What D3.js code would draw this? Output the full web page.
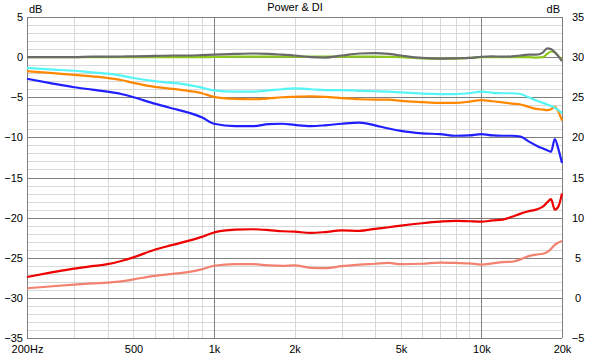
<!DOCTYPE html>
<html><head><meta charset="utf-8">
<script src="https://cdn.jsdelivr.net/npm/d3@7"></script>
<style>body{margin:0;background:#fff}svg{display:block}text{font-family:Arial,"Liberation Sans",sans-serif;font-size:11px;fill:#000}</style>
</head><body>
<script>
const freqs = [200,250,300,350,400,450,500,600,700,800,900,1000,1200,1400,1600,1800,2000,2300,2600,3000,3500,4000,4500,5000,6000,7000,8000,9000,10000,11000,12000,13000,14000,15000,16000,17000,17600,18200,18800,19400,20000];
const grayVals = [0,0,0,0.05,0.05,0.08,0.1,0.15,0.2,0.2,0.25,0.3,0.4,0.45,0.4,0.3,0.2,0.0,-0.05,0.2,0.45,0.5,0.4,0.2,-0.1,-0.2,-0.15,-0.1,0.05,0.1,0.05,0.1,0.2,0.3,0.3,0.6,1.1,1.0,0.6,0.1,-0.5];
const greenVals = [0,0,0,0,0,0,0,0,0,0,0,0.02,0.05,0.05,0.05,0.05,0.05,0.05,0.05,0.05,0.05,0.05,0.03,0,-0.15,-0.2,-0.2,-0.1,0,0,0,0,0,0,-0.05,0,0.4,0.7,0.6,0.1,-0.3];
const cyanVals = [-1.35,-1.55,-1.7,-1.9,-2.05,-2.3,-2.6,-3.0,-3.2,-3.45,-3.8,-4.15,-4.3,-4.3,-4.15,-4.0,-3.9,-4.0,-4.1,-4.1,-4.2,-4.25,-4.3,-4.4,-4.55,-4.6,-4.6,-4.5,-4.3,-4.45,-4.5,-4.5,-4.6,-5.0,-5.4,-5.7,-5.9,-6.1,-6.3,-6.6,-7.0];
const orangeVals = [-1.75,-2.0,-2.2,-2.4,-2.6,-2.85,-3.2,-3.7,-3.95,-4.2,-4.5,-4.95,-5.2,-5.25,-5.15,-5.0,-4.95,-4.9,-4.95,-5.1,-5.25,-5.3,-5.3,-5.45,-5.6,-5.7,-5.7,-5.55,-5.35,-5.5,-5.65,-5.8,-5.9,-6.2,-6.45,-6.55,-6.6,-6.5,-6.2,-6.8,-7.9];
const blueVals = [-2.7,-3.3,-3.75,-4.05,-4.3,-4.6,-5.0,-5.8,-6.4,-6.9,-7.5,-8.3,-8.6,-8.6,-8.35,-8.3,-8.45,-8.6,-8.5,-8.3,-8.15,-8.5,-8.9,-9.2,-9.5,-9.6,-9.8,-9.75,-9.6,-9.75,-9.8,-9.8,-9.9,-10.5,-11.0,-11.4,-11.6,-11.8,-10.2,-11.5,-13.2];
const redDI = [2.6,3.2,3.65,3.95,4.2,4.6,5.05,6.0,6.6,7.1,7.6,8.15,8.5,8.55,8.45,8.3,8.25,8.1,8.2,8.4,8.35,8.6,8.8,9.0,9.3,9.5,9.6,9.55,9.5,9.65,9.75,10.1,10.5,10.8,11.0,11.4,11.9,12.3,11.0,11.4,13.0];
const salmonDI = [1.2,1.45,1.65,1.8,1.9,2.05,2.3,2.75,3.0,3.2,3.55,4.0,4.2,4.2,4.05,4.0,4.05,3.75,3.7,3.95,4.15,4.25,4.35,4.2,4.25,4.4,4.35,4.3,4.15,4.3,4.45,4.5,4.8,5.2,5.4,5.5,5.7,6.1,6.6,6.9,7.1];
const xTicks = [200,500,1000,2000,5000,10000,20000];
const xTickLabels = ["200Hz","500","1k","2k","5k","10k","20k"];
const leftTicks = [5,0,-5,-10,-15,-20,-25,-30,-35];
const rightTicks = [35,30,25,20,15,10,5,0,-5];

const W=591,H=357, L=27, R=562, T=17, B=338;
const svg=d3.select("body").append("svg").attr("width",W).attr("height",H);
const x=d3.scaleLog().domain([200,20000]).range([L,R]);
const yL=d3.scaleLinear().domain([-35,5]).range([B,T]);
const yR=d3.scaleLinear().domain([-5,35]).range([B,T]);

const g=svg.append("g");
for(let v=-34; v<5; v++){ if(v%5===0) continue;
  g.append("line").attr("x1",L).attr("x2",R).attr("y1",Math.round(yL(v))+0.5).attr("y2",Math.round(yL(v))+0.5).attr("stroke","#d8d8d8").attr("stroke-width",1);}
const minorV=[300,400,500,600,700,800,900,2000,3000,4000,5000,6000,7000,8000,9000];
minorV.forEach(f=>g.append("line").attr("x1",Math.round(x(f))+0.5).attr("x2",Math.round(x(f))+0.5).attr("y1",T).attr("y2",B).attr("stroke","#d8d8d8"));
leftTicks.forEach(v=>g.append("line").attr("x1",L).attr("x2",R).attr("y1",Math.round(yL(v))+0.5).attr("y2",Math.round(yL(v))+0.5).attr("stroke","#808080"));
[200,1000,10000,20000].forEach(f=>g.append("line").attr("x1",Math.round(x(f))+0.5).attr("x2",Math.round(x(f))+0.5).attr("y1",T).attr("y2",B).attr("stroke","#808080"));

const styleText=s=>s.selectAll("text").attr("font-size",11).attr("font-family","Arial, 'Liberation Sans', sans-serif").attr("fill","#000");
const lax=d3.axisLeft(yL).tickValues(leftTicks).tickSize(0).tickPadding(4);
svg.append("g").attr("transform",`translate(${L},0)`).call(lax).call(s=>{s.select(".domain").remove();styleText(s);});
const rax=d3.axisRight(yR).tickValues(rightTicks).tickSize(0).tickPadding(16);
svg.append("g").attr("transform",`translate(${R},0)`).call(rax).call(s=>{s.select(".domain").remove();styleText(s);s.selectAll("text").attr("text-anchor","middle");});
const bax=d3.axisBottom(x).tickValues(xTicks).tickFormat((d,i)=>xTickLabels[i]).tickSize(0).tickPadding(7);
svg.append("g").attr("transform",`translate(0,${B})`).call(bax).call(s=>{s.select(".domain").remove();styleText(s);});

svg.append("text").attr("x",29).attr("y",13).text("dB");
svg.append("text").attr("x",560).attr("y",13).attr("text-anchor","end").text("dB");
svg.append("text").attr("x",295).attr("y",11).attr("text-anchor","middle").text("Power & DI");

const lineL=d3.line().x((d,i)=>x(freqs[i])).y(d=>yL(d)).curve(d3.curveMonotoneX);
const lineR=d3.line().x((d,i)=>x(freqs[i])).y(d=>yR(d)).curve(d3.curveMonotoneX);
const series=[
  [salmonDI,lineR,"#f2816f"],
  [redDI,lineR,"#ee0000"],
  [blueVals,lineL,"#2020ff"],
  [orangeVals,lineL,"#ff8800"],
  [cyanVals,lineL,"#55f5f5"],
  [greenVals,lineL,"#8cc81e"],
  [grayVals,lineL,"#6a6a6a"]
];
series.forEach(([vals,ln,c])=>svg.append("path").attr("d",ln(vals)).attr("fill","none").attr("stroke",c).attr("stroke-width",2.2).attr("stroke-linejoin","round"));
</script>
</body></html>
